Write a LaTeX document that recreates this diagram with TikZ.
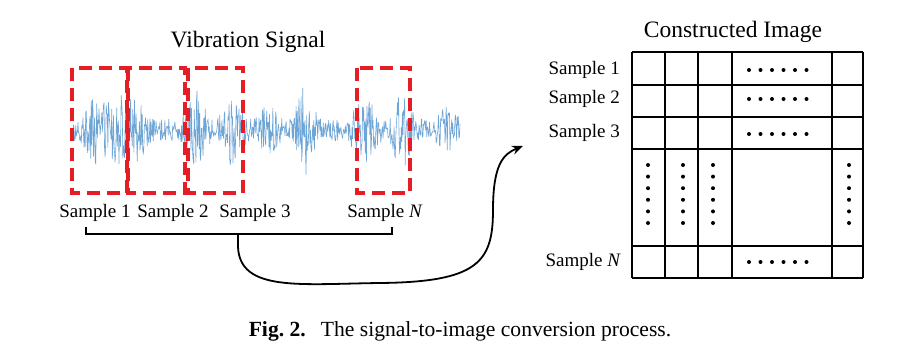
\documentclass[tikz,border=0pt]{standalone}
\usepackage{fontspec}
\setmainfont{Liberation Serif}
\usetikzlibrary{arrows.meta}
\definecolor{winred}{RGB}{228,30,36}
\definecolor{sigblue}{RGB}{110,165,215}
\begin{document}
\begin{tikzpicture}[x=1pt,y=-1pt,
  lbl/.style={font=\fontsize{19}{22}\selectfont, inner sep=0pt},
  ttl/.style={font=\fontsize{23.5}{26}\selectfont, inner sep=0pt},
  winbox/.style={draw=winred, line width=3.6pt, dash pattern=on 13pt off 7pt},
  gridline/.style={line width=1.3pt},
  dotm/.style={circle, fill=black, inner sep=0pt, minimum size=4pt},
  brace/.style={line width=1.4pt},
]
\useasboundingbox (0,0) rectangle (924,361);
\fill[white] (0,0) rectangle (924,361);

% ---- left: vibration signal ----
\node[ttl] (vtitle) at (248,42) {Vibration Signal};

\pgfmathsetseed{7}
\draw[sigblue, line width=0.6pt, line join=round]
  plot[domain=73:460, samples=700]
  (\x, {130 + (11
     + 24*max(0,1-abs(\x-95)/16)
     + 32*max(0,1-abs(\x-118)/18)
     + 22*max(0,1-abs(\x-138)/14)
     + 32*max(0,1-abs(\x-196)/16)
     + 28*max(0,1-abs(\x-232)/16)
     + 16*max(0,1-abs(\x-268)/16)
     + 38*max(0,1-abs(\x-305)/14)
     + 24*max(0,1-abs(\x-365)/18)
     + 34*max(0,1-abs(\x-403)/16)
     + 16*max(0,1-abs(\x-448)/14))*rand});

\draw[winbox] (72,68) rectangle (127,193);
\draw[winbox] (128,68) rectangle (185,193);
\draw[winbox] (188,68) rectangle (243,193);
\draw[winbox] (357,68) rectangle (410,193);

\node[lbl] (s1) at (95,213) {Sample 1};
\node[lbl] (s2) at (173,213) {Sample 2};
\node[lbl] (s3) at (255,213) {Sample 3};
\node[lbl] (sN) at (385,213) {Sample \textit{N}};

\coordinate (bl) at (86,227);
\coordinate (br) at (392,227);
\coordinate (bm) at (238,234);
\coordinate (bstem) at (238,247);
\draw[brace] (bl) -- (86,234) -- (392,234) -- (br);
\draw[brace] (bm) -- (bstem);

\coordinate (atip) at (523,146);
\draw[line width=1.8pt, -{Stealth[length=11pt,width=9pt]}]
  (bstem) .. controls (240,292) and (300,284) .. (380,283)
  .. controls (478,282) and (493,262) .. (493,210)
  .. controls (493,165) and (503,154) .. (atip);

% ---- right: constructed image ----
\node[ttl] (ctitle) at (733,32) {Constructed Image};

\foreach \yy in {52,85,117,149,246,278}
  \draw[gridline] (632,\yy) -- (863,\yy);
\foreach \xx in {632,665,698,732,832,863}
  \draw[gridline] (\xx,52) -- (\xx,278);

\node[lbl, anchor=east] (r1) at (620,70) {Sample 1};
\node[lbl, anchor=east] (r2) at (620,99) {Sample 2};
\node[lbl, anchor=east] (r3) at (620,133) {Sample 3};
\node[lbl, anchor=east] (rN) at (621,262) {Sample \textit{N}};

\foreach \yy in {70,99,134,262}
  \foreach \k in {0,...,5}
    \node[dotm] at ({749+11.5*\k},\yy) {};
\foreach \xx in {648,683,713,849}
  \foreach \k in {0,...,5}
    \node[dotm] at (\xx,{165+11.6*\k}) {};

% ---- caption ----
\node[font=\fontsize{21.6}{24}\selectfont, inner sep=0pt] (cap) at (460,331)
  {\textbf{Fig.\ 2.}\hspace{0.7em}The signal-to-image conversion process.};
\end{tikzpicture}
\end{document}
